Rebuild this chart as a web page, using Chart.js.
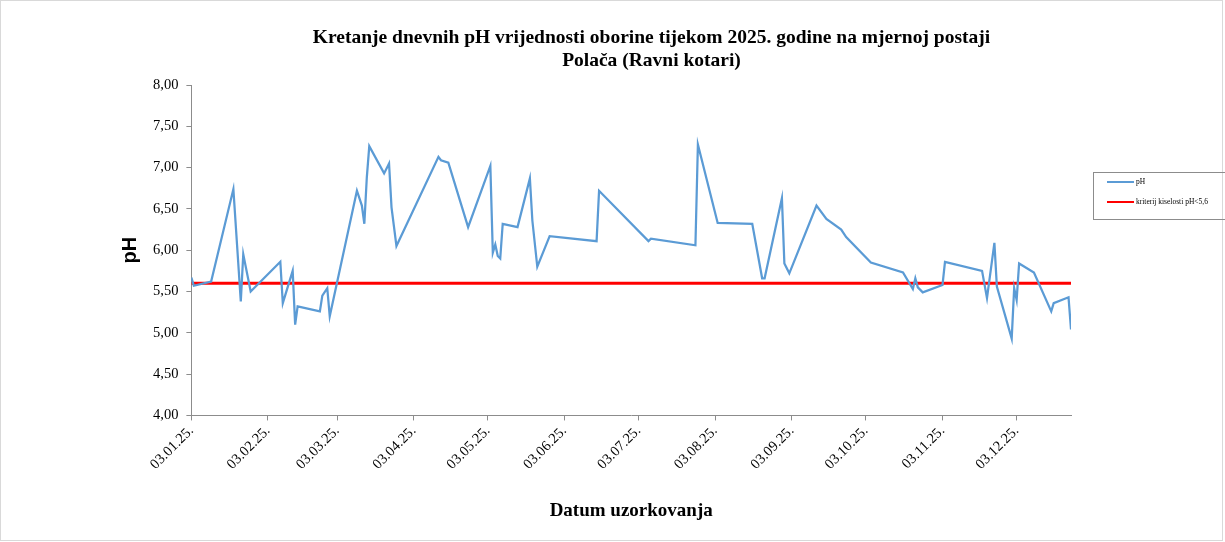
<!DOCTYPE html>
<html>
<head>
<meta charset="utf-8">
<script src="https://cdn.jsdelivr.net/npm/chart.js@4.4.1/dist/chart.umd.min.js"></script>
<style>
    html, body { margin: 0; padding: 0; background: #fff; }
</style>
</head>
<body>
<canvas id="phChart" width="1225" height="542"></canvas>
<script>
// datumi uzorkovanja i izmjerene pH vrijednosti
const sampleDates = [
    '2025-01-03', '2025-01-04', '2025-01-11', '2025-01-20', '2025-01-23', '2025-01-24', '2025-01-27',
    '2025-02-08', '2025-02-09', '2025-02-13', '2025-02-14', '2025-02-15', '2025-02-24', '2025-02-25',
    '2025-02-27', '2025-02-28', '2025-03-11', '2025-03-13', '2025-03-14', '2025-03-15', '2025-03-16',
    '2025-03-22', '2025-03-24', '2025-03-25', '2025-03-27', '2025-04-13', '2025-04-14', '2025-04-17',
    '2025-04-25', '2025-05-04', '2025-05-05', '2025-05-06', '2025-05-07', '2025-05-08', '2025-05-09',
    '2025-05-15', '2025-05-20', '2025-05-21', '2025-05-23', '2025-05-28', '2025-06-16', '2025-06-17',
    '2025-07-07', '2025-07-08', '2025-07-26', '2025-07-27', '2025-08-04', '2025-08-18', '2025-08-22',
    '2025-08-23', '2025-08-30', '2025-08-31', '2025-09-02', '2025-09-13', '2025-09-17', '2025-09-23',
    '2025-09-25', '2025-10-05', '2025-10-18', '2025-10-22', '2025-10-23', '2025-10-24', '2025-10-26',
    '2025-11-03', '2025-11-04', '2025-11-19', '2025-11-21', '2025-11-24', '2025-11-25', '2025-12-01',
    '2025-12-02', '2025-12-03', '2025-12-04', '2025-12-10', '2025-12-17', '2025-12-18', '2025-12-24',
    '2025-12-25'
];
const phValues = [
    5.67, 5.57, 5.62, 6.74, 5.38, 5.95, 5.50,
    5.86, 5.36, 5.75, 5.10, 5.32, 5.26, 5.45,
    5.54, 5.20, 6.72, 6.54, 6.32, 6.88, 7.26,
    6.93, 7.05, 6.52, 6.05, 7.13, 7.09, 7.06,
    6.28, 7.02, 5.97, 6.07, 5.93, 5.90, 6.32,
    6.28, 6.87, 6.36, 5.80, 6.17, 6.11, 6.72,
    6.11, 6.14, 6.06, 7.28, 6.33, 6.32, 5.66,
    5.66, 6.63, 5.84, 5.72, 6.54, 6.38, 6.25,
    6.16, 5.85, 5.73, 5.53, 5.66, 5.55, 5.49,
    5.58, 5.86, 5.75, 5.42, 6.09, 5.56, 4.93,
    5.54, 5.40, 5.84, 5.73, 5.26, 5.36, 5.43,
    5.04
];
const limitValue = 5.6;
const tickDates = [
    '2025-01-03', '2025-02-03', '2025-03-03', '2025-04-03', '2025-05-03', '2025-06-03',
    '2025-07-03', '2025-08-03', '2025-09-03', '2025-10-03', '2025-11-03', '2025-12-03'
];
const tickLabels = [
    '03.01.25.', '03.02.25.', '03.03.25.', '03.04.25.', '03.05.25.', '03.06.25.',
    '03.07.25.', '03.08.25.', '03.09.25.', '03.10.25.', '03.11.25.', '03.12.25.'
];
const seriesLabels = ['pH', 'kriterij kiselosti pH<5,6'];

const firstDate = sampleDates[0];
const lastDate = sampleDates[sampleDates.length - 1];

function dayOffset(iso) {
    return (Date.parse(iso) - Date.parse(firstDate)) / 86400000;
}

const tickOffsets = tickDates.map(dayOffset);
const phPoints = sampleDates.map((d, i) => ({ x: dayOffset(d), y: phValues[i] }));
const limitPoints = [
    { x: 0, y: limitValue },
    { x: dayOffset(lastDate), y: limitValue }
];

const serif = "'Liberation Serif', 'Times New Roman', serif";
const axisColor = '#8c8c8c';

// okvir grafa, pomak naslova i legenda s rubom kao u Excelu
const excelLook = {
    id: 'excelLook',
    beforeDraw(chart) {
        const c = chart.ctx;
        c.save();
        c.fillStyle = '#fff';
        c.fillRect(0, 0, chart.width, chart.height);
        c.strokeStyle = '#d9d9d9';
        c.lineWidth = 1;
        c.strokeRect(0.5, 0.5, chart.width - 3, chart.height - 2);
        c.restore();
    },
    afterLayout(chart) {
        const t = chart.titleBlock;
        t.left += 57;
        t.right += 57;
    },
    afterDraw(chart) {
        const c = chart.ctx;
        const x0 = 1093, y0 = 172;
        c.save();
        c.strokeStyle = '#8c8c8c';
        c.lineWidth = 1;
        c.strokeRect(x0 + 0.5, y0 + 0.5, 160, 47);
        c.font = '7.5px ' + serif;
        c.textBaseline = 'middle';
        chart.data.datasets.forEach((ds, i) => {
            const y = y0 + 10 + i * 20;
            c.strokeStyle = ds.borderColor;
            c.lineWidth = 2;
            c.beginPath();
            c.moveTo(x0 + 14, y);
            c.lineTo(x0 + 41, y);
            c.stroke();
            c.fillStyle = '#000';
            c.fillText(ds.label, x0 + 43, y);
        });
        c.restore();
    }
};

new Chart(document.getElementById('phChart'), {
    type: 'line',
    data: {
        datasets: [{
            label: seriesLabels[0],
            data: phPoints,
            borderColor: '#5b9bd5',
            backgroundColor: '#5b9bd5',
            borderWidth: 2.25,
            pointRadius: 0,
            tension: 0,
            fill: false
        }, {
            label: seriesLabels[1],
            data: limitPoints,
            borderColor: '#ff0000',
            backgroundColor: '#ff0000',
            borderWidth: 3,
            pointRadius: 0,
            fill: false
        }]
    },
    options: {
        responsive: false,
        animation: false,
        layout: { padding: { left: 118, right: 154, top: 26, bottom: 20 } },
        plugins: {
            legend: { display: false },
            tooltip: { enabled: false },
            title: {
                display: true,
                text: ['Kretanje dnevnih pH vrijednosti oborine tijekom 2025. godine na mjernoj postaji', 'Polača (Ravni kotari)'],
                color: '#000',
                font: { family: serif, size: 19.5, weight: 'bold', lineHeight: 1.18 },
                padding: { top: 0, bottom: 13 }
            }
        },
        scales: {
            x: {
                type: 'linear',
                min: 0,
                max: dayOffset(lastDate),
                afterBuildTicks: axis => {
                    axis.ticks = tickOffsets.map(v => ({ value: v }));
                },
                ticks: {
                    autoSkip: false,
                    minRotation: 45,
                    maxRotation: 45,
                    color: '#000',
                    padding: 2,
                    font: { family: serif, size: 14.5 },
                    callback: value => tickLabels[tickOffsets.indexOf(value)]
                },
                grid: { display: true, drawOnChartArea: false, drawTicks: true, tickLength: 5, color: axisColor },
                border: { color: axisColor, width: 1 },
                title: {
                    display: true,
                    text: 'Datum uzorkovanja',
                    color: '#000',
                    font: { family: serif, size: 19, weight: 'bold' },
                    padding: { top: 24, bottom: 0 }
                }
            },
            y: {
                min: 4,
                max: 8,
                ticks: {
                    stepSize: 0.5,
                    color: '#000',
                    padding: 8,
                    font: { family: serif, size: 14.5 },
                    callback: value => value.toFixed(2).replace('.', ',')
                },
                grid: { display: true, drawOnChartArea: false, drawTicks: true, tickLength: 5, color: axisColor },
                border: { color: axisColor, width: 1 },
                title: {
                    display: true,
                    text: 'pH',
                    color: '#000',
                    font: { family: "'Liberation Sans', Arial, sans-serif", size: 20, weight: 'bold' },
                    padding: { top: 0, bottom: 3 }
                }
            }
        }
    },
    plugins: [excelLook]
});
</script>
</body>
</html>
